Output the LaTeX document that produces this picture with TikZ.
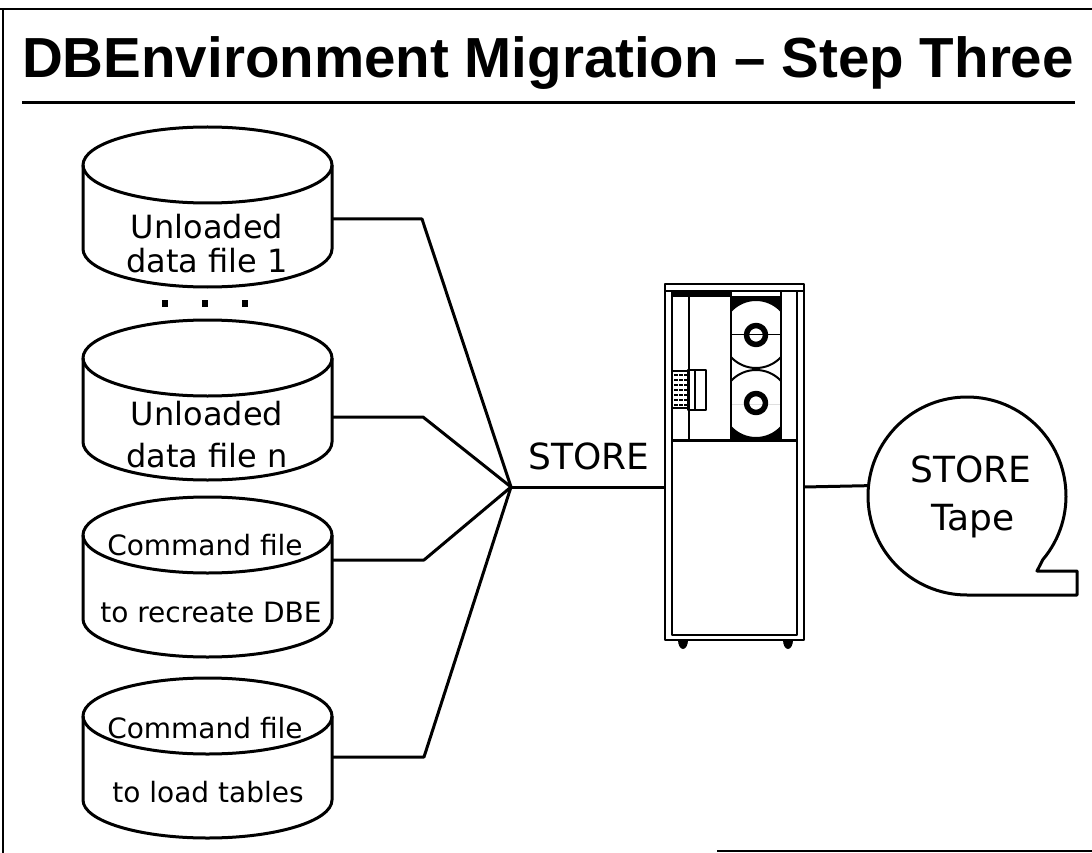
\documentclass[tikz,border=0pt]{standalone}
\usepackage{fontspec}
\setmainfont{DejaVu Sans}
\newfontfamily\titlefont{Liberation Sans}
\begin{document}
\begin{tikzpicture}[x=1pt,y=-1pt,line join=round,
  outline/.style={line width=3pt},
  wire/.style={line width=3pt},
  disklabel/.style={anchor=base,inner sep=0pt,font=\fontsize{32}{32}\selectfont},
  cmdlabel/.style={anchor=base,inner sep=0pt,font=\fontsize{28}{28}\selectfont},
  taglabel/.style={anchor=base,inner sep=0pt,font=\fontsize{36}{36}\selectfont},
  hidden/.style={inner sep=0pt,outer sep=0pt},
]
\useasboundingbox (0,0) rectangle (1092,853);

% page frame
\draw[line width=2.5pt] (0,9) -- (1092,9);
\draw[line width=2.5pt] (3,9) -- (3,853);
\draw[line width=2pt] (717,851) -- (1092,851);

% heading and rule
\node[anchor=base,inner sep=0pt,font=\titlefont\bfseries\fontsize{56.5}{56.5}\selectfont] (title) at (548,78) {DBEnvironment Migration – Step Three};
\draw[line width=3pt] (22,103) -- (1075,103);

% disk cylinders: name, top edge
\newcommand\diskstack[2]{%
  \node[hidden,minimum width=249pt,minimum height=160pt] (#1) at (207.5,{#2+80}) {};
  \draw[outline] (207.5,{#2+38}) ellipse[x radius=124.5,y radius=38];
  \draw[outline] (83,{#2+38}) -- (83,{#2+122})
    arc[start angle=180,end angle=0,x radius=124.5,y radius=38] -- (332,{#2+38});
}
\diskstack{dataA}{127}
\diskstack{dataN}{320}
\diskstack{cmdA}{497}
\diskstack{cmdB}{678}

\node[disklabel] (dataA1) at (207,238) {Unloaded};
\node[disklabel] (dataA2) at (207,272) {data file 1};
\node[disklabel] (dataN1) at (207,425) {Unloaded};
\node[disklabel] (dataN2) at (207,467) {data file n};
\node[cmdlabel] (cmdA1) at (205,555) {Command file};
\node[cmdlabel] (cmdA2) at (211,622) {to recreate DBE};
\node[cmdlabel] (cmdB1) at (205,738) {Command file};
\node[cmdlabel] (cmdB2) at (208,802) {to load tables};

% ellipsis between the data files
\foreach \x in {165,205,245} \fill ({\x-3},299.5) rectangle ({\x+3},306.5);

% tape drive cabinet
\node[hidden,minimum width=139pt,minimum height=356pt] (cab) at (734.5,462) {};
\begin{scope}[line width=2pt]
  \draw[line width=2.5pt] (665,284) rectangle (804,640);
  \draw (665,291) -- (804,291);
  \draw (672,291) -- (672,635) -- (797,635) -- (797,291);
  \draw[line width=3pt] (672,440) -- (797,440);
  \draw (689,291) -- (689,440);
  \draw (731,291) -- (731,440);
  \draw (781,291) -- (781,440);
  \fill (672,291) rectangle (731,297);
  % reels, with dark corners of the reel bay
  \begin{scope}
    \clip (731,296) rectangle (781,334);
    \fill[even odd rule] (731,296) rectangle (781,334) (756,334) circle (34);
  \end{scope}
  \begin{scope}
    \clip (731,404) rectangle (781,440);
    \fill[even odd rule] (731,404) rectangle (781,440) (756,404) circle (34);
  \end{scope}
  \begin{scope}
    \clip (731,291) rectangle (781,440);
    \draw (756,334) circle (34);
    \draw (756,404) circle (34);
  \end{scope}
  \draw[line width=5.5pt] (756,335) circle (9.5);
  \draw[line width=5.5pt] (756,403) circle (9.5);
  % control panel
  \draw (672,371) rectangle (688,408);
  \foreach \r in {0,...,6}
    \foreach \c in {0,1,2}
      \fill ({674+\c*5},{374+\r*5}) rectangle ++(3.5,2.2);
  \draw (688,370) rectangle (706,410);
  \draw (695,370) -- (695,410);
  % feet
  \fill (678,640) arc[start angle=180,end angle=0,x radius=5,y radius=9] -- cycle;
  \fill (783,640) arc[start angle=180,end angle=0,x radius=5,y radius=9] -- cycle;
\end{scope}

% tape reel
\node[hidden,circle,minimum size=198pt] (tape) at (967,496) {};
\draw[outline] (tape.-40) arc[start angle=40,end angle=-270,radius=99]
  -- (1077,595) -- (1077,571) -- (1037,571) -- cycle;
\node[taglabel] (tape1) at (971,482) {STORE};
\node[taglabel] (tape2) at (973,530) {Tape};

% connectors
\coordinate (hub) at (511,487);
\coordinate (kA) at (422,219);
\coordinate (kN) at (423,417);
\coordinate (kC) at (424,560);
\coordinate (kD) at (424,757);
\draw[wire] (dataA.east |- kA) -- (kA) -- (hub);
\draw[wire] (dataN.east |- kN) -- (kN) -- (hub);
\draw[wire] (cmdA.east |- kC) -- (kC) -- (hub);
\draw[wire] (cmdB.east |- kD) -- (kD) -- (hub);
\draw[wire] (hub) -- (cab.west |- hub);
\draw[wire] (cab.east |- hub) -- (tape.174.8);
\node[taglabel,anchor=base west] (storetag) at (528,469) {STORE};
\end{tikzpicture}
\end{document}
